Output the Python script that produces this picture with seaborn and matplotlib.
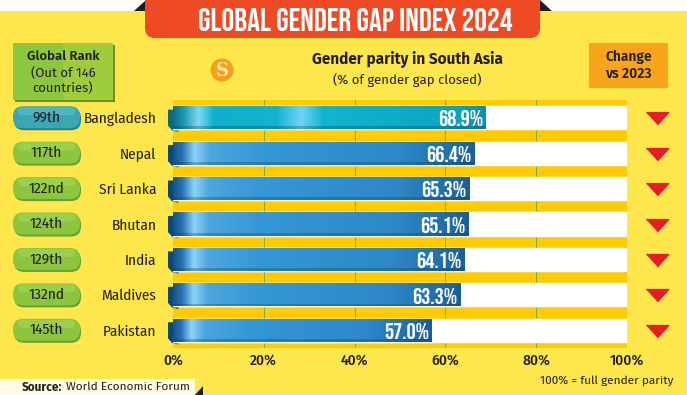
import numpy as np
import matplotlib
matplotlib.use('Agg')
import matplotlib.pyplot as plt
import seaborn as sns
from matplotlib.patches import FancyBboxPatch, Rectangle, Polygon, Circle
from matplotlib.colors import LinearSegmentedColormap

countries = ['Bangladesh', 'Nepal', 'Sri Lanka', 'Bhutan', 'India', 'Maldives', 'Pakistan']
scores = [68.9, 66.4, 65.3, 65.1, 64.1, 63.3, 57.0]
ranks = ['99th', '117th', '122nd', '124th', '129th', '132nd', '145th']
full_parity = [100] * len(countries)
tick_values = [0, 20, 40, 60, 80, 100]
tick_labels = ['0%', '20%', '40%', '60%', '80%', '100%']

sns.set_theme(style='white')
COND = ['Fira Sans Condensed', 'DejaVu Sans']
TITLE = ['Bebas Neue', 'DejaVu Sans']
plt.rcParams['font.family'] = ['Fira Sans', 'DejaVu Sans']

INK = '#231F20'
W, H = 687, 395
fig = plt.figure(figsize=(W / 100, H / 100), dpi=100)
fig.patch.set_facecolor('#FDE74C')

# pixel overlay for decoration (1 unit = 1 px, y downwards)
bg = fig.add_axes([0, 0, 1, 1], zorder=0)
bg.set_xlim(0, W)
bg.set_ylim(H, 0)
bg.axis('off')

# chart area
ax = fig.add_axes([173 / W, 1 - 348 / H, 454 / W, 248 / H], zorder=1)
ax.set_facecolor('#FFCB05')

sns.barplot(x=full_parity, y=countries, color='white', width=0.65,
            saturation=1, ax=ax)
sns.barplot(x=scores, y=countries, color='#3597D6', width=0.65,
            saturation=1, ax=ax)

blue = LinearSegmentedColormap.from_list('blue', [
    (0, '#17548A'), (0.03, '#2673B4'), (0.07, '#8ED2F6'), (0.12, '#4DA6DE'),
    (0.3, '#3597D6'), (0.75, '#2E88C8'), (0.93, '#236CA8'), (1, '#1D5E96')])
teal = LinearSegmentedColormap.from_list('teal', [
    (0, '#0E6E86'), (0.03, '#1796B0'), (0.08, '#7ED8F2'), (0.13, '#10B0CC'),
    (0.33, '#12B4D0'), (0.41, '#6ED4F4'), (0.48, '#12B4D0'), (0.9, '#0AA6C2'),
    (1, '#138DA8')])

grad = np.linspace(0, 1, 256).reshape(1, -1)
n = len(countries)
for i, p in enumerate(ax.patches[n:]):
    x0, y0, w, h = p.get_x(), p.get_y(), p.get_width(), p.get_height()
    im = ax.imshow(grad, cmap=teal if i == 0 else blue, aspect='auto',
                   extent=[x0, x0 + w, y0 + h, y0], zorder=p.get_zorder() + 0.1,
                   interpolation='bicubic')
    im.set_clip_path(p)
    # darker lower edge of the ribbon
    ax.add_patch(Rectangle((x0, y0 + h * 0.88), w, h * 0.12, fc='#0B3A63',
                           alpha=0.3, ec='none', zorder=p.get_zorder() + 0.2))
    # curled end on the left
    ax.add_patch(Polygon([(x0 - 1.1, y0 + h * 0.15), (x0 + 1.2, y0 + h * 0.15),
                          (x0 + 1.2, y0 + h * 1.12), (x0 - 0.2, y0 + h * 1.05),
                          (x0 - 1.1, y0 + h * 0.85)],
                         fc='#0B4A78' if i else '#0B6A7E', ec='none',
                         clip_on=False, zorder=p.get_zorder() - 0.1))
    ax.text(x0 + w - 0.6, i + 0.02, f'{scores[i]:.1f}%', ha='right',
            va='center', color='white', fontsize=16.5, family=TITLE, zorder=5)

ax.set_xlim(0, 100)
ax.set_ylim(n - 0.5, -0.5)
ax.set_xticks(tick_values)
ax.set_xticklabels(tick_labels, family=COND, fontsize=11, fontweight='medium',
                   color=INK)
ax.set_yticks(range(n))
ax.set_yticklabels(countries, family=COND, fontsize=11, color=INK)
ax.tick_params(axis='x', length=0, pad=4)
ax.tick_params(axis='y', length=0, pad=12)
ax.set_xlabel('')
ax.set_ylabel('')
ax.grid(axis='x', color='#7FB23A', lw=0.8)
ax.get_xgridlines()[0].set_visible(False)
ax.set_axisbelow(True)
for s in ax.spines.values():
    s.set_visible(False)

# change vs 2023 markers
tri = [(-1, 0.35), (1, 0.35), (0, -0.75)]
ax.scatter([106.5] * n, [i - 0.04 for i in range(n)], marker=tri, s=260,
           color='#E41E26', clip_on=False, zorder=5)

# rank pills
for i, r in enumerate(ranks):
    yc = H - ax.transData.transform((0, i))[1]
    face = '#3BA7B3' if i == 0 else '#8CC63F'
    shade = '#2A7F8A' if i == 0 else '#6A9F2E'
    top = '#5FC0C6' if i == 0 else '#A5D65A'
    bg.add_patch(FancyBboxPatch((14, yc - 9.5), 67, 22, fc=shade, ec='none',
                                boxstyle='round,pad=0,rounding_size=10'))
    bg.add_patch(FancyBboxPatch((13, yc - 11.5), 67, 22, fc=face, ec='none',
                                boxstyle='round,pad=0,rounding_size=10'))
    bg.add_patch(FancyBboxPatch((18, yc - 10.5), 57, 8, fc=top, ec='none',
                                alpha=0.6,
                                boxstyle='round,pad=0,rounding_size=4'))
    bg.text(46.5, yc, r, ha='center', va='center', fontsize=11,
            family=COND, color=INK)

# title banner
bg.add_patch(Rectangle((0, 0), W, 11, fc='white', ec='none'))
bg.add_patch(Polygon([(134, 11), (146, 0), (146, 11)], fc='#1E1E1E', ec='none'))
bg.add_patch(Polygon([(552, 11), (540, 0), (540, 11)], fc='#1E1E1E', ec='none'))
bg.add_patch(FancyBboxPatch((145, -20), 395, 58, fc='#EE4A23', ec='none',
                            boxstyle='round,pad=0,rounding_size=10'))
bg.text(355, 19.5, 'GLOBAL GENDER GAP INDEX 2024', ha='center', va='center',
        color='white', fontsize=23, family=TITLE)

# header boxes
bg.add_patch(Rectangle((15, 45), 100, 57, fc='#6E8E2A', ec='none'))
bg.add_patch(Rectangle((13, 43), 100, 57, fc='#8DC63F', ec='none'))
bg.add_patch(Rectangle((63, 43), 50, 57, fc='#B3D535', ec='none', alpha=0.45))
bg.text(63, 56, 'Global Rank', ha='center', va='center', fontsize=9.5,
        fontweight='semibold', color=INK)
bg.text(63, 73, '(Out of 146', ha='center', va='center', fontsize=9.5,
        color=INK)
bg.text(63, 88, 'countries)', ha='center', va='center', fontsize=9.5,
        color=INK)

bg.add_patch(Rectangle((589, 43), 79, 45, fc='#F8A51B', ec='none'))
bg.text(628.5, 57, 'Change', ha='center', va='center', fontsize=10,
        fontweight='semibold', color=INK)
bg.text(628.5, 74, 'vs 2023', ha='center', va='center', fontsize=10,
        fontweight='semibold', color=INK)

bg.add_patch(Circle((222, 70), 11.5, fc='#F6A01A', ec='none'))
bg.text(222, 70.5, 'S', ha='center', va='center', fontsize=13,
        fontweight='bold', family='DejaVu Serif', color='#FDE3B0')

bg.text(407, 60, 'Gender parity in South Asia', ha='center', va='center',
        fontsize=11, fontweight='bold', color=INK)
bg.text(407, 80, '(% of gender gap closed)', ha='center', va='center',
        fontsize=9.5, color=INK)

# footer
bg.add_patch(Rectangle((0, 379), 195, 16, fc='#FFFBE2', ec='none'))
bg.add_patch(Polygon([(195, 395), (203, 386), (203, 395)], fc='#1E1E1E',
                     ec='none'))
bg.text(22, 387, 'Source:', ha='left', va='center', fontsize=8.5,
        fontweight='bold', color=INK)
bg.text(66, 387, 'World Economic Forum', ha='left', va='center',
        fontsize=8.5, color=INK)
bg.text(673, 381, '100% = full gender parity', ha='right', va='center',
        fontsize=8.5, color=INK)

fig.savefig('out.png', dpi=100, facecolor=fig.get_facecolor())
